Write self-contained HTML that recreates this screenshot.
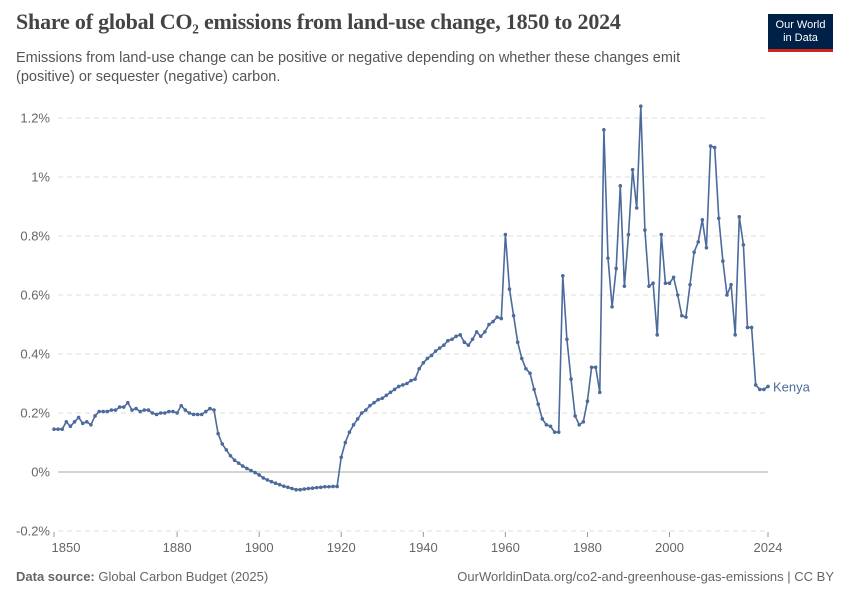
<!DOCTYPE html>
<html><head><meta charset="utf-8"><style>
body{margin:0;width:850px;height:600px;background:#fff;font-family:"Liberation Sans",sans-serif;position:relative;overflow:hidden}
.t{position:absolute;left:16px;top:9px;font-family:"Liberation Serif",serif;font-size:22px;color:#444;font-weight:bold;letter-spacing:-0.2px}
.s{position:absolute;left:16px;top:49px;font-size:14.5px;color:#555;line-height:19px;width:720px}
.logo{position:absolute;left:768px;top:14px;width:65px;height:38px;background:#002147;border-bottom:3px solid #ce261e;color:#fff;font-size:11px;text-align:center;line-height:12.5px;padding-top:5px;box-sizing:border-box}
.f{position:absolute;top:569px;font-size:13px;color:#666}
</style></head><body>
<div class="t">Share of global CO₂ emissions from land-use change, 1850 to 2024</div>
<div class="s">Emissions from land-use change can be positive or negative depending on whether these changes emit (positive) or sequester (negative) carbon.</div>
<div class="logo">Our World<br>in Data</div>
<svg id="c" width="850" height="600" style="position:absolute;left:0;top:0"></svg>
<div class="f" style="left:16px"><b>Data source:</b> Global Carbon Budget (2025)</div>
<div class="f" style="right:16px">OurWorldinData.org/co2-and-greenhouse-gas-emissions | CC BY</div>
<script>
const startYear=1850;
const values=[.145,.145,.145,.17,.155,.17,.185,.165,.17,.16,.19,.205,.205,.205,.21,.21,.22,.22,.235,.21,.215,.205,.21,.21,.2,.195,.2,.2,.205,.205,.2,.225,.21,.2,.195,.195,.195,.205,.215,.21,
.13,.095,.075,.055,.04,.03,.02,.012,.005,-.002,-.01,-.02,-.027,-.033,-.038,-.043,-.048,-.052,-.056,-.06,-.06,-.058,-.056,-.055,-.053,-.052,-.05,-.05,-.049,-.049,
.05,.1,.135,.16,.18,.2,.21,.225,.235,.245,.25,.26,.27,.28,.29,.295,.3,.31,.315,.35,.37,.385,.395,.41,.42,.43,.445,.45,.46,.465,.44,.43,.45,.475,.46,.475,.5,.51,.525,.52,
.805,.62,.53,.44,.385,.35,.335,.28,.23,.18,.16,.155,.135,.135,.665,.45,.315,.19,.16,.17,.24,.355,.355,.27,
1.16,.725,.56,.69,.97,.63,.805,1.025,.895,1.24,.82,.63,.64,.465,.805,.64,.64,.66,.6,.53,.525,.635,.745,.78,.855,.76,1.105,1.1,.86,.715,.6,.635,.465,.865,.77,.49,.49,.295,.28,.28,.29];
const yTicks=[-0.2,0,0.2,0.4,0.6,0.8,1,1.2];
const yTickLabels=["-0.2%","0%","0.2%","0.4%","0.6%","0.8%","1%","1.2%"];
const xTicks=[1850,1880,1900,1920,1940,1960,1980,2000,2024];
const ns="http://www.w3.org/2000/svg",svg=document.getElementById('c');
const X=y=>54+(y-1850)*(714/174), Y=v=>472-v*295;
function mk(t,a){const e=document.createElementNS(ns,t);for(const k in a)e.setAttribute(k,a[k]);svg.appendChild(e);return e;}
yTicks.forEach((v,i)=>{
 const l=mk('line',{x1:58,x2:768,y1:Y(v),y2:Y(v),stroke:v===0?'#aaa':'#ddd','stroke-dasharray':v===0?'':'5,4'});
 
 
 const t=mk('text',{x:50,y:Y(v)+4.5,'text-anchor':'end','font-size':13,fill:'#666'});t.textContent=yTickLabels[i];
 
 
});
xTicks.forEach(y=>{
 const l=mk('line',{x1:X(y),x2:X(y),y1:532,y2:537,stroke:'#999'});
 
 
 const t=mk('text',{x:X(y)+(y===1850?12:0),y:552,'text-anchor':'middle','font-size':13,fill:'#666'});t.textContent=y;
 
 
});
const pts=values.map((v,i)=>X(startYear+i).toFixed(1)+','+Y(v).toFixed(1)).join(' ');
const pl=mk('polyline',{points:pts,fill:'none',stroke:'#4c6a9c','stroke-width':1.6});


values.forEach((v,i)=>{const c=mk('circle',{cx:X(startYear+i),cy:Y(v),r:1.8,fill:'#4c6a9c'});
 
 });
const lb=mk('text',{x:X(2024)+5,y:Y(values[values.length-1])+5,'font-size':13,fill:'#4c6a9c'});lb.textContent='Kenya';


</script>
</body></html>
